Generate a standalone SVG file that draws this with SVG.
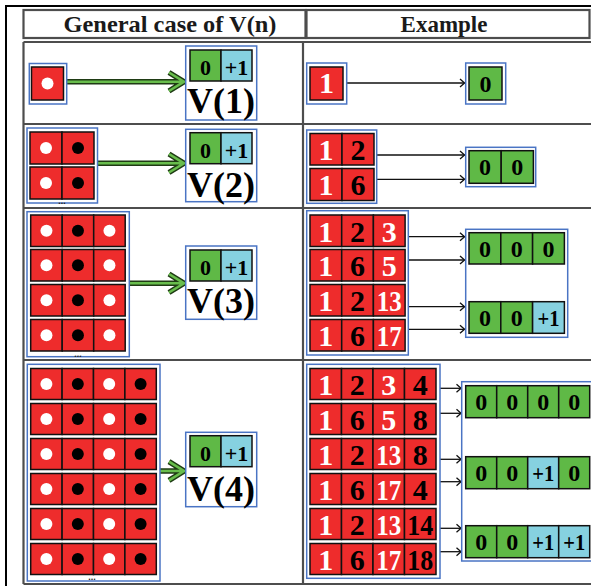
<svg xmlns="http://www.w3.org/2000/svg" width="591" height="586" viewBox="0 0 591 586">
<style>
.red{fill:#ee2c2c;stroke:#111;stroke-width:1.5}
.grn{fill:#5fb946;stroke:#111;stroke-width:1.5}
.cy{fill:#86d1e0;stroke:#111;stroke-width:1.5}
.bl{fill:#fff;stroke:#4a74c4;stroke-width:1.5}
.grid{fill:none;stroke:#4d4d4d;stroke-width:2.2}
.wd{fill:#fff}
.kd{fill:#000}
.t{font-family:"Liberation Serif","Times New Roman",serif;font-weight:bold;text-anchor:middle}
.n{font-size:30px}
.g{font-size:24px}
.s{font-size:22px}
.v{font-size:36px}
.h{font-size:23px;fill:#1a1a1a}
.w{fill:#fff}
.k{fill:#000}
.dots{font-family:"Liberation Sans",sans-serif;font-size:9px;font-weight:bold;text-anchor:middle;fill:#222}
.ga1{fill:none;stroke:#1f3b14;stroke-width:5.5;stroke-linejoin:miter}
.ga2{fill:none;stroke:#68bd4c;stroke-width:2.6;stroke-linejoin:miter}
.ta{fill:none;stroke:#111;stroke-width:1.3}
</style>
<defs>
<marker id="oa" viewBox="0 0 6 10" refX="5.5" refY="5" markerWidth="6" markerHeight="10" markerUnits="userSpaceOnUse" orient="auto">
<path d="M1,1 L5.5,5 L1,9" fill="none" stroke="#111" stroke-width="1.3"/>
</marker>
</defs>
<rect width="591" height="586" fill="#fff"/>
<g id="frame">
<path d="M6,586 V6 H591" fill="none" stroke="#000" stroke-width="2"/>
<rect class="grid" x="23.5" y="10" width="282" height="28"/>
<rect class="grid" x="306.5" y="10" width="283" height="28"/>
<path class="grid" d="M23.5,42 H593 M23.5,124 H593 M23.5,208 H593 M23.5,360 H593 M23.5,584 H593 M23.5,42 V584 M303,42 V584"/>
</g>
<g id="header">
<text class="t h" x="170" y="31.5" textLength="213" lengthAdjust="spacingAndGlyphs">General case of V(n)</text>
<text class="t h" x="444" y="31.5">Example</text>
</g>

<g id="connectors">
<path class="ga1" d="M67,81.7 H183 M169,72.5 L184,81.7 L169,91"/>
<path class="ga2" d="M67,81.7 H183 M169,72.5 L184,81.7 L169,91"/>
<path class="ga1" d="M97.5,163.3 H183 M169,154 L184,163.3 L169,172.5"/>
<path class="ga2" d="M97.5,163.3 H183 M169,154 L184,163.3 L169,172.5"/>
<path class="ga1" d="M129.5,283.3 H183 M169,274 L184,283.3 L169,292.5"/>
<path class="ga2" d="M129.5,283.3 H183 M169,274 L184,283.3 L169,292.5"/>
<path class="ga1" d="M160,471 H183 M169,461.7 L184,471 L169,480.3"/>
<path class="ga2" d="M160,471 H183 M169,461.7 L184,471 L169,480.3"/>
<path class="ta" marker-end="url(#oa)" d="M343.5,83 H464.5"/>
<path class="ta" marker-end="url(#oa)" d="M374.5,155 H464.5"/>
<path class="ta" marker-end="url(#oa)" d="M374.5,179.3 H464.5"/>
<path class="ta" marker-end="url(#oa)" d="M405.5,236.7 H464.5"/>
<path class="ta" marker-end="url(#oa)" d="M405.5,260 H464.5"/>
<path class="ta" marker-end="url(#oa)" d="M405.5,306.7 H464.5"/>
<path class="ta" marker-end="url(#oa)" d="M405.5,329.3 H464.5"/>
<path class="ta" marker-end="url(#oa)" d="M436,388.3 H461"/>
<path class="ta" marker-end="url(#oa)" d="M436,413.3 H461"/>
<path class="ta" marker-end="url(#oa)" d="M436,459.3 H461"/>
<path class="ta" marker-end="url(#oa)" d="M436,481.7 H461"/>
<path class="ta" marker-end="url(#oa)" d="M436,528.3 H461"/>
<path class="ta" marker-end="url(#oa)" d="M436,551.7 H461"/>
</g>

<!-- Row 1 -->
<g id="gen1">
<rect class="bl" x="29.3" y="63.5" width="37.4" height="40.5"/>
<rect class="red" x="31.5" y="67" width="32" height="33"/>
<circle class="wd" cx="47.5" cy="83.5" r="6"/>
</g>
<g id="v1">
<rect class="bl" x="185.7" y="46" width="71" height="74"/>
<rect class="grn" x="190" y="50" width="31" height="31"/>
<rect class="cy" x="221" y="50" width="31" height="31"/>
<text class="t s k" x="205.5" y="75">0</text>
<text class="t s k" x="236.5" y="75">+1</text>
<text class="t v k" x="221" y="113" textLength="68" lengthAdjust="spacingAndGlyphs">V(1)</text>
</g>
<g id="ex1in">
<rect class="bl" x="306.7" y="63" width="40" height="41"/>
<rect class="red" x="310" y="67" width="33" height="33"/>
<text class="t n w" x="326.5" y="93">1</text>
</g>
<g id="ex1out">
<rect class="bl" x="465.7" y="63" width="40" height="41"/>
<rect class="grn" x="469" y="67" width="33" height="33"/>
<text class="t g k" x="485.5" y="91.5">0</text>
</g>

<!-- Row 2 -->
<g id="gen2">
<rect class="bl" x="27" y="128" width="70.5" height="75"/>
<rect class="red" x="30" y="132" width="32" height="32"/><rect class="red" x="62" y="132" width="32" height="32"/>
<rect class="red" x="30" y="167" width="32" height="32"/><rect class="red" x="62" y="167" width="32" height="32"/>
<circle class="wd" cx="46" cy="148" r="6"/><circle class="kd" cx="78" cy="148" r="6"/>
<circle class="wd" cx="46" cy="183" r="6"/><circle class="kd" cx="78" cy="183" r="6"/>
<text class="dots" x="62" y="203.5">...</text>
</g>
<g id="v2">
<rect class="bl" x="185.7" y="129.3" width="71" height="72.4"/>
<rect class="grn" x="190" y="132.7" width="31" height="31"/>
<rect class="cy" x="221" y="132.7" width="31" height="31"/>
<text class="t s k" x="205.5" y="157.7">0</text>
<text class="t s k" x="236.5" y="157.7">+1</text>
<text class="t v k" x="221" y="196.7" textLength="68" lengthAdjust="spacingAndGlyphs">V(2)</text>
</g>
<g id="ex2in">
<rect class="bl" x="306.7" y="130" width="70" height="73.3"/>
<rect class="red" x="310" y="133.5" width="32" height="31.5"/><rect class="red" x="342" y="133.5" width="32" height="31.5"/>
<rect class="red" x="310" y="168.5" width="32" height="32"/><rect class="red" x="342" y="168.5" width="32" height="32"/>
<text class="t n w" x="326" y="160">1</text><text class="t n k" x="358" y="160">2</text>
<text class="t n w" x="326" y="195">1</text><text class="t n k" x="358" y="195">6</text>
</g>
<g id="ex2out">
<rect class="bl" x="465.7" y="147.3" width="70" height="39.4"/>
<rect class="grn" x="469" y="150.7" width="32.2" height="32.6"/><rect class="grn" x="501.2" y="150.7" width="32.2" height="32.6"/>
<text class="t g k" x="485.1" y="175.2">0</text><text class="t g k" x="517.3" y="175.2">0</text>
</g>

<!-- Row 3 -->
<g id="gen3">
<rect class="bl" x="27" y="211.7" width="102.3" height="145"/>
<rect class="red" x="30.7" y="215" width="31.5" height="31.5"/><rect class="red" x="62.2" y="215" width="31.5" height="31.5"/><rect class="red" x="93.7" y="215" width="31.5" height="31.5"/>
<rect class="red" x="30.7" y="249.5" width="31.5" height="31.5"/><rect class="red" x="62.2" y="249.5" width="31.5" height="31.5"/><rect class="red" x="93.7" y="249.5" width="31.5" height="31.5"/>
<rect class="red" x="30.7" y="284.5" width="31.5" height="31.5"/><rect class="red" x="62.2" y="284.5" width="31.5" height="31.5"/><rect class="red" x="93.7" y="284.5" width="31.5" height="31.5"/>
<rect class="red" x="30.7" y="319.5" width="31.5" height="31.5"/><rect class="red" x="62.2" y="319.5" width="31.5" height="31.5"/><rect class="red" x="93.7" y="319.5" width="31.5" height="31.5"/>
<circle class="wd" cx="46.45" cy="230.75" r="6"/><circle class="kd" cx="77.95" cy="230.75" r="6"/><circle class="wd" cx="109.45" cy="230.75" r="6"/>
<circle class="wd" cx="46.45" cy="265.25" r="6"/><circle class="kd" cx="77.95" cy="265.25" r="6"/><circle class="wd" cx="109.45" cy="265.25" r="6"/>
<circle class="wd" cx="46.45" cy="300.25" r="6"/><circle class="kd" cx="77.95" cy="300.25" r="6"/><circle class="wd" cx="109.45" cy="300.25" r="6"/>
<circle class="wd" cx="46.45" cy="335.25" r="6"/><circle class="kd" cx="77.95" cy="335.25" r="6"/><circle class="wd" cx="109.45" cy="335.25" r="6"/>
<text class="dots" x="78" y="357">...</text>
</g>
<g id="v3">
<rect class="bl" x="185.7" y="246" width="71" height="73.3"/>
<rect class="grn" x="190" y="250" width="31" height="31"/>
<rect class="cy" x="221" y="250" width="31" height="31"/>
<text class="t s k" x="205.5" y="275">0</text>
<text class="t s k" x="236.5" y="275">+1</text>
<text class="t v k" x="221" y="313.3" textLength="68" lengthAdjust="spacingAndGlyphs">V(3)</text>
</g>
<g id="ex3in">
<rect class="bl" x="306.7" y="210.7" width="101.6" height="144.3"/>
<rect class="red" x="310" y="215" width="31.7" height="31.5"/><rect class="red" x="341.7" y="215" width="31.7" height="31.5"/><rect class="red" x="373.4" y="215" width="31.7" height="31.5"/>
<rect class="red" x="310" y="249.5" width="31.7" height="31.5"/><rect class="red" x="341.7" y="249.5" width="31.7" height="31.5"/><rect class="red" x="373.4" y="249.5" width="31.7" height="31.5"/>
<rect class="red" x="310" y="284.5" width="31.7" height="31.5"/><rect class="red" x="341.7" y="284.5" width="31.7" height="31.5"/><rect class="red" x="373.4" y="284.5" width="31.7" height="31.5"/>
<rect class="red" x="310" y="319.5" width="31.7" height="31.5"/><rect class="red" x="341.7" y="319.5" width="31.7" height="31.5"/><rect class="red" x="373.4" y="319.5" width="31.7" height="31.5"/>
<text class="t n w" x="325.85" y="241.5">1</text><text class="t n k" x="357.55" y="241.5">2</text><text class="t n w" x="389.25" y="241.5">3</text>
<text class="t n w" x="325.85" y="276">1</text><text class="t n k" x="357.55" y="276">6</text><text class="t n w" x="389.25" y="276">5</text>
<text class="t n w" x="325.85" y="311">1</text><text class="t n k" x="357.55" y="311">2</text><text class="t n w" x="389.25" y="311" textLength="25" lengthAdjust="spacingAndGlyphs">13</text>
<text class="t n w" x="325.85" y="346">1</text><text class="t n k" x="357.55" y="346">6</text><text class="t n w" x="389.25" y="346" textLength="25" lengthAdjust="spacingAndGlyphs">17</text>
</g>
<g id="ex3out">
<rect class="bl" x="465.7" y="229.3" width="102" height="108"/>
<rect class="grn" x="469" y="232.7" width="31.8" height="31.3"/><rect class="grn" x="500.8" y="232.7" width="31.8" height="31.3"/><rect class="grn" x="532.6" y="232.7" width="31.8" height="31.3"/>
<rect class="grn" x="469" y="301.7" width="31.8" height="31.6"/><rect class="grn" x="500.8" y="301.7" width="31.8" height="31.6"/><rect class="cy" x="532.6" y="301.7" width="31.8" height="31.6"/>
<text class="t g k" x="484.9" y="257.2">0</text><text class="t g k" x="516.7" y="257.2">0</text><text class="t g k" x="548.5" y="257.2">0</text>
<text class="t g k" x="484.9" y="326.2">0</text><text class="t g k" x="516.7" y="326.2">0</text><text class="t g k" x="548.5" y="326.2" textLength="22" lengthAdjust="spacingAndGlyphs">+1</text>
</g>

<!-- Row 4 -->
<g id="gen4">
<rect class="bl" x="27.3" y="364.3" width="132.7" height="216.7"/>
<rect class="red" x="30.7" y="368.5" width="31.4" height="31"/><rect class="red" x="62.1" y="368.5" width="31.4" height="31"/><rect class="red" x="93.5" y="368.5" width="31.4" height="31"/><rect class="red" x="124.9" y="368.5" width="31.4" height="31"/>
<rect class="red" x="30.7" y="403.5" width="31.4" height="31"/><rect class="red" x="62.1" y="403.5" width="31.4" height="31"/><rect class="red" x="93.5" y="403.5" width="31.4" height="31"/><rect class="red" x="124.9" y="403.5" width="31.4" height="31"/>
<rect class="red" x="30.7" y="438.5" width="31.4" height="31"/><rect class="red" x="62.1" y="438.5" width="31.4" height="31"/><rect class="red" x="93.5" y="438.5" width="31.4" height="31"/><rect class="red" x="124.9" y="438.5" width="31.4" height="31"/>
<rect class="red" x="30.7" y="473.5" width="31.4" height="31"/><rect class="red" x="62.1" y="473.5" width="31.4" height="31"/><rect class="red" x="93.5" y="473.5" width="31.4" height="31"/><rect class="red" x="124.9" y="473.5" width="31.4" height="31"/>
<rect class="red" x="30.7" y="508.5" width="31.4" height="31"/><rect class="red" x="62.1" y="508.5" width="31.4" height="31"/><rect class="red" x="93.5" y="508.5" width="31.4" height="31"/><rect class="red" x="124.9" y="508.5" width="31.4" height="31"/>
<rect class="red" x="30.7" y="543.5" width="31.4" height="31"/><rect class="red" x="62.1" y="543.5" width="31.4" height="31"/><rect class="red" x="93.5" y="543.5" width="31.4" height="31"/><rect class="red" x="124.9" y="543.5" width="31.4" height="31"/>
<circle class="wd" cx="46.4" cy="384" r="6"/><circle class="kd" cx="77.8" cy="384" r="6"/><circle class="wd" cx="109.2" cy="384" r="6"/><circle class="kd" cx="140.6" cy="384" r="6"/>
<circle class="wd" cx="46.4" cy="419" r="6"/><circle class="kd" cx="77.8" cy="419" r="6"/><circle class="wd" cx="109.2" cy="419" r="6"/><circle class="kd" cx="140.6" cy="419" r="6"/>
<circle class="wd" cx="46.4" cy="454" r="6"/><circle class="kd" cx="77.8" cy="454" r="6"/><circle class="wd" cx="109.2" cy="454" r="6"/><circle class="kd" cx="140.6" cy="454" r="6"/>
<circle class="wd" cx="46.4" cy="489" r="6"/><circle class="kd" cx="77.8" cy="489" r="6"/><circle class="wd" cx="109.2" cy="489" r="6"/><circle class="kd" cx="140.6" cy="489" r="6"/>
<circle class="wd" cx="46.4" cy="524" r="6"/><circle class="kd" cx="77.8" cy="524" r="6"/><circle class="wd" cx="109.2" cy="524" r="6"/><circle class="kd" cx="140.6" cy="524" r="6"/>
<circle class="wd" cx="46.4" cy="559" r="6"/><circle class="kd" cx="77.8" cy="559" r="6"/><circle class="wd" cx="109.2" cy="559" r="6"/><circle class="kd" cx="140.6" cy="559" r="6"/>
<text class="dots" x="92" y="580">...</text>
</g>
<g id="v4">
<rect class="bl" x="185.7" y="432.3" width="71" height="74.4"/>
<rect class="grn" x="190" y="435.7" width="31" height="31"/>
<rect class="cy" x="221" y="435.7" width="31" height="31"/>
<text class="t s k" x="205.5" y="460.7">0</text>
<text class="t s k" x="236.5" y="460.7">+1</text>
<text class="t v k" x="221" y="501" textLength="68" lengthAdjust="spacingAndGlyphs">V(4)</text>
</g>
<g id="ex4in">
<rect class="bl" x="306.7" y="364.3" width="133.3" height="214"/>
<rect class="red" x="310" y="368.5" width="31.5" height="31"/><rect class="red" x="341.5" y="368.5" width="31.5" height="31"/><rect class="red" x="373" y="368.5" width="31.5" height="31"/><rect class="red" x="404.5" y="368.5" width="31.5" height="31"/>
<rect class="red" x="310" y="403.5" width="31.5" height="31"/><rect class="red" x="341.5" y="403.5" width="31.5" height="31"/><rect class="red" x="373" y="403.5" width="31.5" height="31"/><rect class="red" x="404.5" y="403.5" width="31.5" height="31"/>
<rect class="red" x="310" y="438.5" width="31.5" height="31"/><rect class="red" x="341.5" y="438.5" width="31.5" height="31"/><rect class="red" x="373" y="438.5" width="31.5" height="31"/><rect class="red" x="404.5" y="438.5" width="31.5" height="31"/>
<rect class="red" x="310" y="473.5" width="31.5" height="31"/><rect class="red" x="341.5" y="473.5" width="31.5" height="31"/><rect class="red" x="373" y="473.5" width="31.5" height="31"/><rect class="red" x="404.5" y="473.5" width="31.5" height="31"/>
<rect class="red" x="310" y="508.5" width="31.5" height="31"/><rect class="red" x="341.5" y="508.5" width="31.5" height="31"/><rect class="red" x="373" y="508.5" width="31.5" height="31"/><rect class="red" x="404.5" y="508.5" width="31.5" height="31"/>
<rect class="red" x="310" y="543.5" width="31.5" height="31"/><rect class="red" x="341.5" y="543.5" width="31.5" height="31"/><rect class="red" x="373" y="543.5" width="31.5" height="31"/><rect class="red" x="404.5" y="543.5" width="31.5" height="31"/>
<text class="t n w" x="325.75" y="395">1</text><text class="t n k" x="357.25" y="395">2</text><text class="t n w" x="388.75" y="395">3</text><text class="t n k" x="420.25" y="395">4</text>
<text class="t n w" x="325.75" y="430">1</text><text class="t n k" x="357.25" y="430">6</text><text class="t n w" x="388.75" y="430">5</text><text class="t n k" x="420.25" y="430">8</text>
<text class="t n w" x="325.75" y="465">1</text><text class="t n k" x="357.25" y="465">2</text><text class="t n w" x="388.75" y="465" textLength="25" lengthAdjust="spacingAndGlyphs">13</text><text class="t n k" x="420.25" y="465">8</text>
<text class="t n w" x="325.75" y="500">1</text><text class="t n k" x="357.25" y="500">6</text><text class="t n w" x="388.75" y="500" textLength="25" lengthAdjust="spacingAndGlyphs">17</text><text class="t n k" x="420.25" y="500">4</text>
<text class="t n w" x="325.75" y="535">1</text><text class="t n k" x="357.25" y="535">2</text><text class="t n w" x="388.75" y="535" textLength="25" lengthAdjust="spacingAndGlyphs">13</text><text class="t n k" x="420.25" y="535" textLength="26" lengthAdjust="spacingAndGlyphs">14</text>
<text class="t n w" x="325.75" y="570">1</text><text class="t n k" x="357.25" y="570">6</text><text class="t n w" x="388.75" y="570" textLength="25" lengthAdjust="spacingAndGlyphs">17</text><text class="t n k" x="420.25" y="570" textLength="26" lengthAdjust="spacingAndGlyphs">18</text>
</g>
<g id="ex4out">
<rect class="bl" x="461.7" y="381.7" width="135" height="179.3"/>
<rect class="grn" x="465.7" y="385.7" width="31" height="32"/><rect class="grn" x="496.7" y="385.7" width="31" height="32"/><rect class="grn" x="527.7" y="385.7" width="31" height="32"/><rect class="grn" x="558.7" y="385.7" width="31" height="32"/>
<rect class="grn" x="465.7" y="456.7" width="31" height="32"/><rect class="grn" x="496.7" y="456.7" width="31" height="32"/><rect class="cy" x="527.7" y="456.7" width="31" height="32"/><rect class="grn" x="558.7" y="456.7" width="31" height="32"/>
<rect class="grn" x="465.7" y="525.7" width="31" height="32"/><rect class="grn" x="496.7" y="525.7" width="31" height="32"/><rect class="cy" x="527.7" y="525.7" width="31" height="32"/><rect class="cy" x="558.7" y="525.7" width="31" height="32"/>
<text class="t g k" x="481.2" y="410.2">0</text><text class="t g k" x="512.2" y="410.2">0</text><text class="t g k" x="543.2" y="410.2">0</text><text class="t g k" x="574.2" y="410.2">0</text>
<text class="t g k" x="481.2" y="481.2">0</text><text class="t g k" x="512.2" y="481.2">0</text><text class="t g k" x="543.2" y="481.2" textLength="22" lengthAdjust="spacingAndGlyphs">+1</text><text class="t g k" x="574.2" y="481.2">0</text>
<text class="t g k" x="481.2" y="550.2">0</text><text class="t g k" x="512.2" y="550.2">0</text><text class="t g k" x="543.2" y="550.2" textLength="22" lengthAdjust="spacingAndGlyphs">+1</text><text class="t g k" x="574.2" y="550.2" textLength="22" lengthAdjust="spacingAndGlyphs">+1</text>
</g>
</svg>
